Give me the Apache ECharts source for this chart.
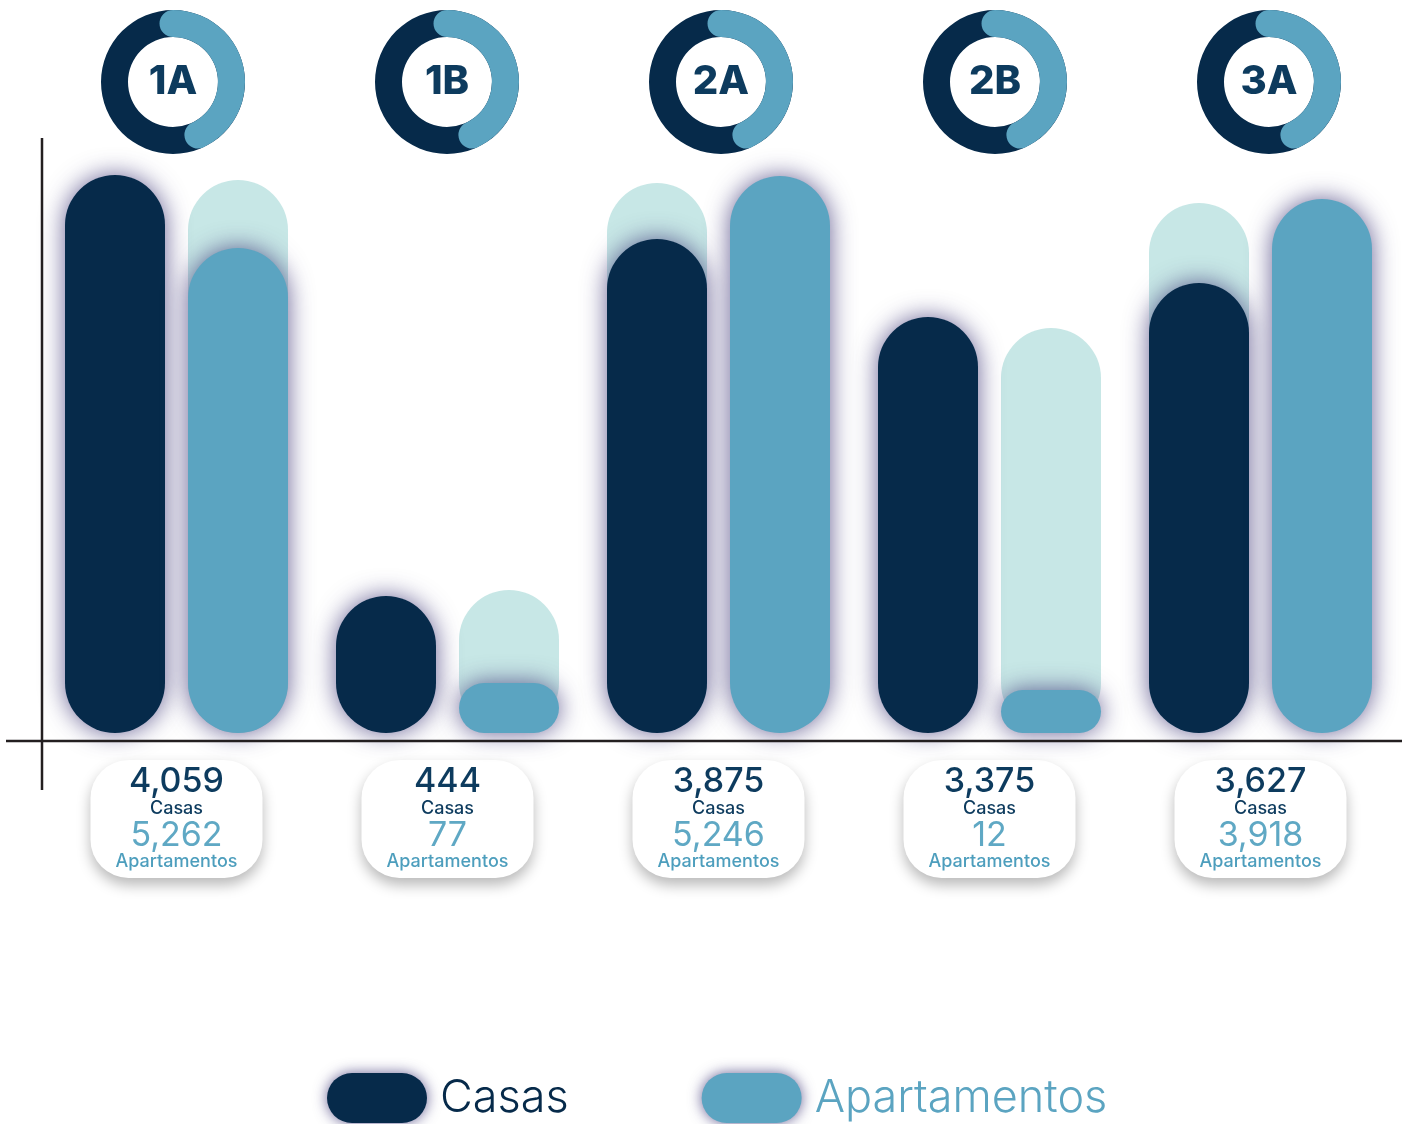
<!DOCTYPE html>
<html>
<head>
<meta charset="utf-8">
<script src="https://cdn.jsdelivr.net/npm/echarts@6/dist/echarts.min.js"></script>
<style>
html,body{margin:0;padding:0;background:#fff;}
#c{width:1412px;height:1124px;}
</style>
</head>
<body>
<div id="c"></div>
<script>
// ---- data ----
const groups = ['1A', '1B', '2A', '2B', '3A'];
const casas = [4059, 444, 3875, 3375, 3627];
const apartamentos = [5262, 77, 5246, 12, 3918];
// bar heights as drawn in the infographic (relative units, not proportional to the labels)
const barCasas = [558, 137, 494, 416, 450];
const barApart = [485, 50, 557, 43, 534];
const barShade = [553, 143, 550, 405, 530];
// donut ring fill (%)
const donutFill = [43, 43, 43, 43, 43];

const NAVY = '#062a4a';
const TEXT_NAVY = '#0d3b5e';
const BLUE = '#5ba4c1';
const BLUE_TXT = '#5fa8c4';
const SHADE = '#c7e7e6';
const GLOW = 'rgba(52,44,112,0.75)';
const FONT = 'Inter, "Noto Sans", sans-serif';

const fmt = v => v.toLocaleString('en-US');
const pill = 'path://M25,0H75A25,25 0 0 1 75,50H25A25,25 0 0 1 25,0Z';

const chart = echarts.init(document.getElementById('c'), null, {renderer: 'canvas'});

const BAR_W = 100;
const SLOT = 61.5;

const shadeData = groups.map((g, i) => [i, barShade[i], barCasas[i] < barApart[i] ? -1 : 1]);

const gauges = groups.map((g, i) => ({
  type: 'gauge',
  name: 'donut' + g,
  center: [173 + 274 * i, 82],
  radius: 72,
  startAngle: 90,
  endAngle: -270,
  min: 0,
  max: 100,
  pointer: {show: false},
  axisLine: {lineStyle: {width: 27, color: [[1, NAVY]]}},
  progress: {show: true, width: 27, roundCap: true, itemStyle: {color: BLUE}},
  splitLine: {show: false},
  axisTick: {show: false},
  axisLabel: {show: false},
  title: {show: false},
  anchor: {show: false},
  detail: {
    show: true,
    offsetCenter: [0, 0],
    formatter: () => g,
    fontSize: 40,
    fontWeight: 800,
    fontFamily: FONT,
    color: TEXT_NAVY
  },
  data: [{value: donutFill[i]}],
  silent: true,
  animation: false
}));

const option = {
  animation: false,
  backgroundColor: '#fff',
  textStyle: {fontFamily: FONT},
  grid: {left: 41, right: 16, top: 133, bottom: 391},
  xAxis: {
    type: 'category',
    data: groups,
    axisLine: {show: false},
    axisTick: {show: false},
    splitLine: {show: false},
    axisLabel: {
      margin: 27,
      interval: 0,
      formatter: (v, i) => `{n|${fmt(casas[i])}}\n{c|Casas}\n{a|${fmt(apartamentos[i])}}\n{p|Apartamentos}`,
      backgroundColor: '#fff',
      borderRadius: 38,
      width: 172,
      align: 'center',
      padding: [6, 0, 6, 0],
      shadowBlur: 14,
      shadowColor: 'rgba(0,0,0,0.28)',
      shadowOffsetY: 7,
      rich: {
        n: {fontSize: 34, lineHeight: 31, color: TEXT_NAVY, fontWeight: 500, fontFamily: FONT, align: 'center'},
        c: {fontSize: 18, lineHeight: 23, color: TEXT_NAVY, fontWeight: 500, fontFamily: FONT, align: 'center'},
        a: {fontSize: 34, lineHeight: 31, color: BLUE_TXT, fontWeight: 400, fontFamily: FONT, align: 'center'},
        p: {fontSize: 18, lineHeight: 21, color: '#4d9ebd', fontWeight: 500, fontFamily: FONT, align: 'center'}
      }
    }
  },
  yAxis: {type: 'value', min: 0, max: 600, show: false},
  legend: {
    left: 327,
    top: 1073,
    padding: 0,
    itemWidth: 100,
    itemHeight: 50,
    itemGap: 133,
    icon: pill,
    itemStyle: {shadowBlur: 14, shadowColor: GLOW},
    textStyle: {fontSize: 45, fontWeight: 300, fontFamily: FONT, padding: [0, 0, 0, 8]},
    data: [
      {name: 'Casas', textStyle: {color: NAVY}},
      {name: 'Apartamentos', textStyle: {color: BLUE}}
    ]
  },
  graphic: [
    {type: 'line', z: 100, shape: {x1: 42, y1: 138, x2: 42, y2: 790}, style: {stroke: '#231f20', lineWidth: 2.5}},
    {type: 'line', z: 100, shape: {x1: 6, y1: 741, x2: 1402, y2: 741}, style: {stroke: '#231f20', lineWidth: 2.5}}
  ],
  series: [
    {
      type: 'custom',
      name: 'shade',
      z: 1,
      silent: true,
      data: shadeData,
      renderItem: (params, api) => {
        const i = api.value(0);
        const top = api.coord([i, api.value(1)]);
        const base = api.coord([i, 0]);
        const cx = top[0] + api.value(2) * SLOT;
        return {
          type: 'rect',
          shape: {x: cx - BAR_W / 2, y: top[1], width: BAR_W, height: base[1] - top[1], r: 50},
          style: {fill: SHADE}
        };
      }
    },
    {
      type: 'bar',
      name: 'Casas',
      z: 2,
      data: barCasas,
      barWidth: BAR_W,
      barGap: '23%',
      itemStyle: {color: NAVY, borderRadius: 50, shadowBlur: 24, shadowColor: GLOW}
    },
    {
      type: 'bar',
      name: 'Apartamentos',
      z: 2,
      data: barApart,
      barWidth: BAR_W,
      barGap: '23%',
      itemStyle: {color: BLUE, borderRadius: 50, shadowBlur: 24, shadowColor: GLOW}
    },
    ...gauges
  ]
};
chart.setOption(option);
</script>
</body>
</html>
